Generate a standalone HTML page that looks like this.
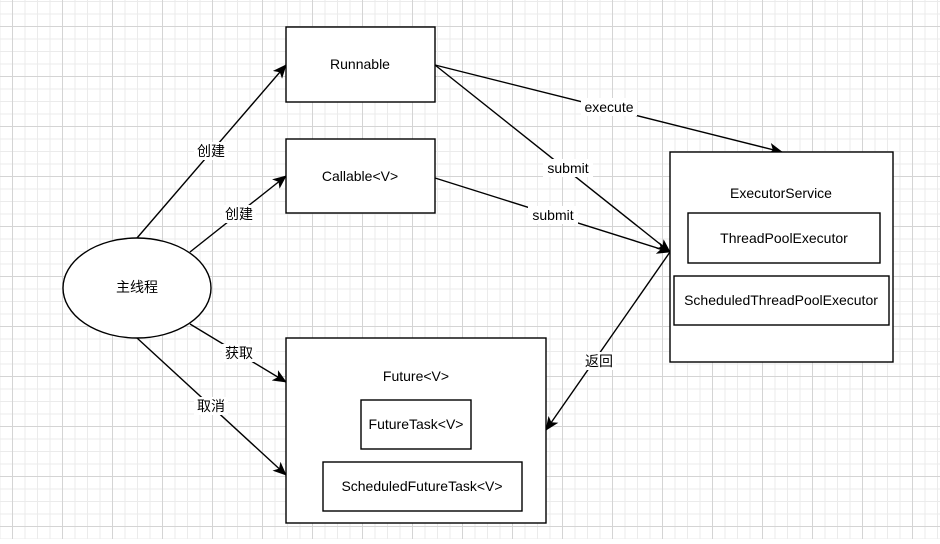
<!DOCTYPE html>
<html><head><meta charset="utf-8"><style>
body{margin:0;width:940px;height:539px;overflow:hidden;background:#fff}
svg text{font-family:"Liberation Sans","Noto Sans CJK SC",sans-serif;font-size:14px;fill:#000}
</style></head><body>
<svg width="940" height="539" xmlns="http://www.w3.org/2000/svg">
<defs>
<pattern id="minor" x="12" y="26" width="12.5" height="12.5" patternUnits="userSpaceOnUse">
<path d="M0 0.5H12.5M0.5 0V12.5" stroke="#ebebeb" stroke-width="1" fill="none"/></pattern>
<pattern id="major" x="12" y="26" width="50" height="50" patternUnits="userSpaceOnUse">
<path d="M0 0.5H50M0.5 0V50" stroke="#d4d4d4" stroke-width="1" fill="none"/></pattern>
<marker id="a" markerWidth="14" markerHeight="12" refX="13" refY="6" orient="auto" markerUnits="userSpaceOnUse">
<path d="M0 0L14 6L0 12L3.5 6Z" fill="#000"/></marker>
</defs>
<rect width="940" height="539" fill="url(#minor)"/>
<rect width="940" height="539" fill="url(#major)"/>
<g stroke="#000" stroke-width="1.4" fill="none">
<line x1="137" y1="238" x2="286" y2="65" marker-end="url(#a)"/>
<line x1="190" y1="252" x2="286" y2="176" marker-end="url(#a)"/>
<line x1="190" y1="324" x2="286" y2="382" marker-end="url(#a)"/>
<line x1="137" y1="338" x2="286" y2="475" marker-end="url(#a)"/>
<line x1="435" y1="65" x2="782" y2="152" marker-end="url(#a)"/>
<line x1="435" y1="65" x2="670" y2="252" marker-end="url(#a)"/>
<line x1="435" y1="178" x2="670" y2="252" marker-end="url(#a)"/>
<line x1="670" y1="252" x2="546" y2="430" marker-end="url(#a)"/>
</g>
<g fill="#fff" stroke="#000" stroke-width="1.4">
<ellipse cx="137" cy="288" rx="74" ry="50"/>
<rect x="286" y="27" width="149" height="75"/>
<rect x="286" y="139" width="149" height="74"/>
<rect x="670" y="152" width="223" height="210"/>
<rect x="688" y="213" width="192" height="50"/>
<rect x="674" y="276" width="215" height="49"/>
<rect x="286" y="338" width="260" height="185"/>
<rect x="361" y="400" width="110" height="49"/>
<rect x="323" y="462" width="199" height="49"/>
</g>
<g fill="#fff">
<rect x="194" y="142" width="34" height="18"/>
<rect x="222" y="205" width="34" height="18"/>
<rect x="222" y="344" width="34" height="18"/>
<rect x="194" y="397" width="34" height="18"/>
<rect x="581" y="98" width="56" height="18"/>
<rect x="543" y="159" width="50" height="18"/>
<rect x="528" y="206" width="50" height="18"/>
<rect x="582" y="352" width="34" height="18"/>
</g>
<g text-anchor="middle">
<text x="360" y="69">Runnable</text>
<text x="360" y="181">Callable&lt;V&gt;</text>
<text x="137" y="292">主线程</text>
<text x="781" y="198">ExecutorService</text>
<text x="784" y="243">ThreadPoolExecutor</text>
<text x="781" y="305">ScheduledThreadPoolExecutor</text>
<text x="416" y="381">Future&lt;V&gt;</text>
<text x="416" y="429">FutureTask&lt;V&gt;</text>
<text x="422" y="491">ScheduledFutureTask&lt;V&gt;</text>
<text x="211" y="156">创建</text>
<text x="239" y="219">创建</text>
<text x="239" y="358">获取</text>
<text x="211" y="411">取消</text>
<text x="609" y="112">execute</text>
<text x="568" y="173">submit</text>
<text x="553" y="220">submit</text>
<text x="599" y="366">返回</text>
</g>
</svg>
</body></html>
